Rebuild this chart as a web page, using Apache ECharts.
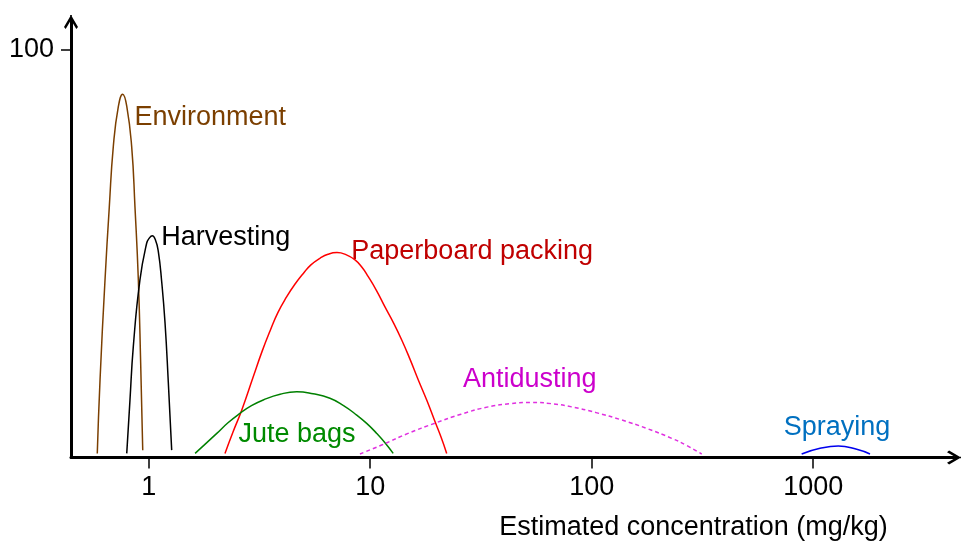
<!DOCTYPE html>
<html><head><meta charset="utf-8">
<script src="https://cdn.jsdelivr.net/npm/echarts@6/dist/echarts.min.js"></script>
<style>html,body{margin:0;padding:0;background:#fff}#c{width:961px;height:541px}</style>
</head><body><div id="c"></div>
<script>
// ---- data ----
const xTickValues = [1, 10, 100, 1000];
const yTickValues = [100];

const envX = [0.586, 0.603, 0.635, 0.664, 0.692, 0.729, 0.763, 0.796, 0.838, 0.867, 0.898, 0.920, 0.940];
const envY = [1.0, 19.0, 43.5, 61.4, 76.1, 85.9, 89.0, 86.1, 76.1, 61.4, 43.5, 23.1, 1.8];

const harvX = [0.796, 0.823, 0.852, 0.913, 0.979, 1.008, 1.038, 1.071, 1.105, 1.145, 1.185, 1.226, 1.270];
const harvY = [1.0, 14.0, 27.1, 43.5, 52.5, 53.8, 54.3, 53.4, 50.5, 43.0, 33.0, 18.5, 1.8];

const paperX = [2.21, 2.40, 2.63, 2.97, 3.25, 3.53, 3.83, 4.20, 4.58, 4.99, 5.40, 5.93, 6.45, 7.08, 7.77, 8.54, 9.18, 9.80, 10.68, 11.66, 12.74, 13.88, 15.12, 16.49, 18.05, 19.61, 20.88, 22.15];
const paperY = [1.0, 6.2, 11.6, 19.9, 26.0, 31.0, 35.5, 39.4, 42.5, 45.1, 47.2, 48.8, 49.8, 50.2, 49.7, 48.4, 46.6, 44.3, 40.9, 36.9, 33.0, 28.8, 24.1, 19.0, 13.9, 8.8, 5.0, 1.0];

const juteX = [1.62, 2.03, 2.28, 2.58, 2.91, 3.29, 3.92, 4.66, 5.52, 6.58, 7.58, 8.69, 9.67, 10.7, 11.66, 12.7];
const juteY = [1.0, 5.9, 8.5, 10.8, 12.7, 14.1, 15.5, 16.1, 15.6, 14.5, 12.7, 10.4, 8.3, 5.9, 3.6, 1.0];

const antiX = [8.99, 11.27, 14.82, 19.6, 25.7, 34.1, 42.8, 53.6, 65.5, 81.2, 104.6, 136.5, 177.7, 229.6, 269.3, 313.8];
const antiY = [0.86, 3.06, 5.9, 8.4, 10.6, 12.4, 13.2, 13.5, 13.2, 12.4, 11.0, 9.2, 7.1, 4.7, 2.9, 0.86];

const sprayX = [887, 1074, 1298, 1572, 1805];
const sprayY = [0.86, 2.25, 2.8, 2.0, 0.86];

const labels = ['Environment', 'Harvesting', 'Paperboard packing', 'Jute bags', 'Antidusting', 'Spraying'];

// ---- chart ----
const FONT = "'Liberation Sans', Arial, sans-serif";
function pairs(xs, ys) { return xs.map((x, i) => [x, ys[i]]); }
const arrowPath = 'path://M50,0 L100,85 L88,100 L50,35 L12,100 L0,85 Z M44,0 L56,0 L56,100 L44,100 Z';

function lineSeries(name, xs, ys, color, type) {
  return {
    name: name, type: 'line', data: pairs(xs, ys), smooth: 0.5,
    symbol: 'none', showSymbol: false, silent: true,
    lineStyle: { color: color, width: 1.5, type: type || 'solid' },
    z: 3
  };
}

const chart = echarts.init(document.getElementById('c'), null, { renderer: 'canvas' });
chart.setOption({
  animation: false,
  backgroundColor: '#fff',
  grid: { left: 71, right: 7, top: 22, bottom: 83.5, containLabel: false, outerBoundsMode: 'none' },
  xAxis: {
    type: 'log', logBase: 10, min: 0.4459, max: 4322,
    name: 'Estimated concentration (mg/kg)', nameLocation: 'middle', nameGap: 57,
    nameTextStyle: { fontFamily: FONT, fontSize: 27, color: '#000', padding: [0, 0, 0, 362] },
    axisLine: { show: true, lineStyle: { color: '#000', width: 3 }, symbol: ['none', arrowPath], symbolSize: [16, 14] },
    axisTick: { show: true, length: 11, lineStyle: { color: '#000', width: 1.5 }, customValues: xTickValues },
    axisLabel: { fontFamily: FONT, fontSize: 27, color: '#000', margin: 17, customValues: xTickValues,
                 formatter: v => String(Math.round(v)) },
    splitLine: { show: false }, minorTick: { show: false }, minorSplitLine: { show: false }
  },
  yAxis: {
    type: 'value', min: 0, max: 106.7,
    name: 'Proportion of rice concerned (%)', nameLocation: 'middle', nameGap: 30, nameRotate: 90,
    nameTextStyle: { fontFamily: FONT, fontSize: 27, color: '#000', padding: [0, 78, 0, 0] },
    axisLine: { show: true, lineStyle: { color: '#000', width: 3 }, symbol: ['none', arrowPath], symbolSize: [16, 14] },
    axisTick: { show: true, length: 10, lineStyle: { color: '#000', width: 1.5 }, customValues: yTickValues },
    axisLabel: { fontFamily: FONT, fontSize: 27, color: '#000', margin: 17, customValues: yTickValues },
    splitLine: { show: false }
  },
  series: [
    lineSeries(labels[0], envX, envY, '#7B3F00'),
    lineSeries(labels[1], harvX, harvY, '#000000'),
    lineSeries(labels[2], paperX, paperY, '#FF0000'),
    lineSeries(labels[3], juteX, juteY, '#008000'),
    lineSeries(labels[4], antiX, antiY, '#E030E0', [4, 3]),
    lineSeries(labels[5], sprayX, sprayY, '#0000EE')
  ],
  graphic: [
    { type: 'text', x: 134.5, y: 117.5, style: { text: labels[0], font: '27px ' + FONT, fill: '#7B3F00', align: 'left', verticalAlign: 'middle', textAlign: 'left', textVerticalAlign: 'middle' } },
    { type: 'text', x: 161.3, y: 238, style: { text: labels[1], font: '27px ' + FONT, fill: '#000000', align: 'left', verticalAlign: 'middle', textAlign: 'left', textVerticalAlign: 'middle' } },
    { type: 'text', x: 351.3, y: 251.3, style: { text: labels[2], font: '27px ' + FONT, fill: '#C00000', align: 'left', verticalAlign: 'middle', textAlign: 'left', textVerticalAlign: 'middle' } },
    { type: 'text', x: 238.5, y: 434.7, style: { text: labels[3], font: '27px ' + FONT, fill: '#008A00', align: 'left', verticalAlign: 'middle', textAlign: 'left', textVerticalAlign: 'middle' } },
    { type: 'text', x: 463, y: 379.7, style: { text: labels[4], font: '27px ' + FONT, fill: '#CC00CC', align: 'left', verticalAlign: 'middle', textAlign: 'left', textVerticalAlign: 'middle' } },
    { type: 'text', x: 783.8, y: 428, style: { text: labels[5], font: '27px ' + FONT, fill: '#0070C0', align: 'left', verticalAlign: 'middle', textAlign: 'left', textVerticalAlign: 'middle' } }
  ]
});
</script>
</body></html>
